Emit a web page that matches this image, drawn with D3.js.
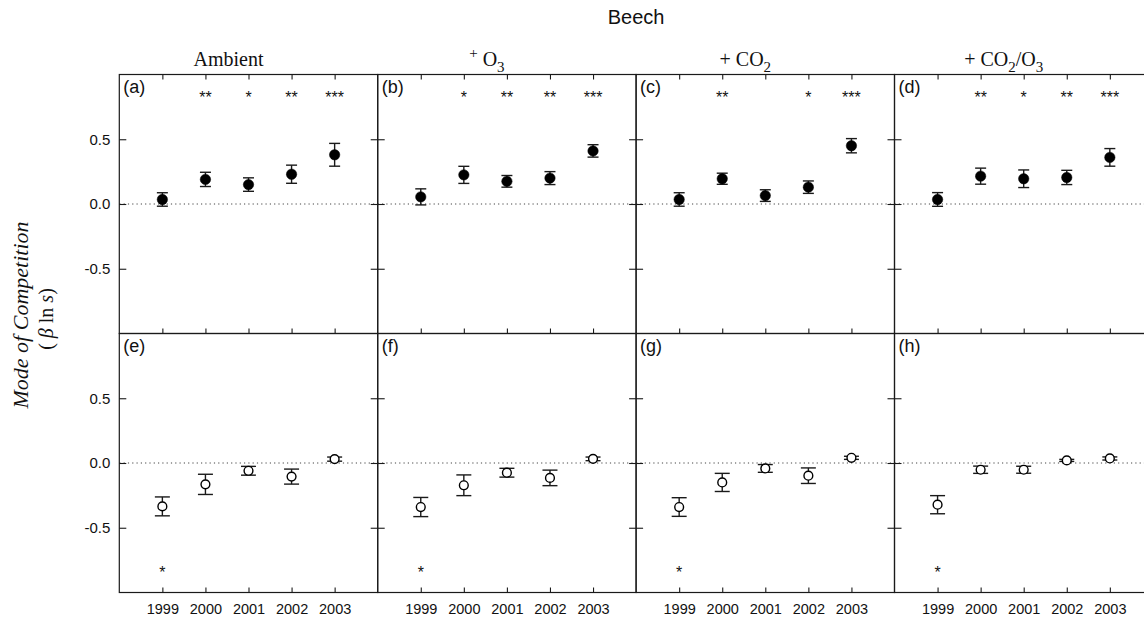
<!DOCTYPE html>
<html>
<head>
<meta charset="utf-8">
<script src="https://cdn.jsdelivr.net/npm/d3@7"></script>
<style>
  body { margin: 0; background: #fff; }
  svg { display: block; }
</style>
</head>
<body>
<svg id="chart" width="1144" height="621"></svg>
<script>
// Sampling years shown on the x axis
const years = [1999, 2000, 2001, 2002, 2003];

// Column headers (treatments); parts carry optional super/subscript roles
const treatmentHeaders = [
  [{ t: "Ambient" }],
  [{ t: "+", role: "sup" }, { t: " O" }, { t: "3", role: "sub" }],
  [{ t: "+ CO" }, { t: "2", role: "sub" }],
  [{ t: "+ CO" }, { t: "2", role: "sub" }, { t: "/O" }, { t: "3", role: "sub" }]
];

const panelLetters = [
  ["(a)", "(b)", "(c)", "(d)"],
  ["(e)", "(f)", "(g)", "(h)"]
];

// Upper row: mean mode of competition and standard error per treatment
const upperMeans = [
  [0.035, 0.19, 0.15, 0.23, 0.38],
  [0.055, 0.225, 0.175, 0.20, 0.41],
  [0.035, 0.195, 0.065, 0.13, 0.45],
  [0.035, 0.215, 0.195, 0.205, 0.36]
];
const upperErrors = [
  [0.052, 0.055, 0.052, 0.07, 0.088],
  [0.062, 0.066, 0.045, 0.05, 0.048],
  [0.052, 0.043, 0.045, 0.048, 0.055],
  [0.053, 0.062, 0.068, 0.055, 0.068]
];

// Lower row: mean mode of competition and standard error per treatment
const lowerMeans = [
  [-0.335, -0.165, -0.06, -0.105, 0.03],
  [-0.34, -0.172, -0.075, -0.115, 0.032],
  [-0.34, -0.15, -0.042, -0.098, 0.04],
  [-0.322, -0.052, -0.052, 0.02, 0.035]
];
const lowerErrors = [
  [0.073, 0.078, 0.034, 0.058, 0.016],
  [0.074, 0.08, 0.034, 0.06, 0.014],
  [0.072, 0.07, 0.03, 0.06, 0.012],
  [0.07, 0.028, 0.027, 0.008, 0.012]
];

// Significance markers above / below each year
const upperStars = [
  ["", "**", "*", "**", "***"],
  ["", "*", "**", "**", "***"],
  ["", "**", "", "*", "***"],
  ["", "**", "*", "**", "***"]
];
const lowerStars = [
  ["*", "", "", "", ""],
  ["*", "", "", "", ""],
  ["*", "", "", "", ""],
  ["*", "", "", "", ""]
];

const yTickValues = [-0.5, 0, 0.5];
const yTickLabels = ["-0.5", "0.0", "0.5"];

// ---- layout ----
const svg = d3.select("#chart");
const gridLeft = 119.3, gridTop = 74.5;
const panelW = 258.4, panelH = 259;
const sans = "'Liberation Sans', Arial, sans-serif";
const serif = "'Liberation Serif', 'Times New Roman', serif";
const ink = "#1a1a1a";

const x = d3.scaleLinear().domain([1998, 2004]).range([0, panelW]);
const y = d3.scaleLinear().domain([-1, 1]).range([panelH, 0]);

const rows = [
  { means: upperMeans, errors: upperErrors, stars: upperStars, filled: true, starAt: 0.855, cap: 5.5, topTicks: true },
  { means: lowerMeans, errors: lowerErrors, stars: lowerStars, filled: false, starAt: -0.82, cap: 7.5, topTicks: false }
];

function styleAxis(g) {
  g.select(".domain").remove();
  g.selectAll(".tick line").attr("stroke", ink).attr("stroke-width", 1.1);
  g.selectAll(".tick text").attr("fill", "#111").attr("font-family", sans);
}

rows.forEach((row, r) => {
  for (let c = 0; c < 4; c++) {
    const g = svg.append("g")
      .attr("transform", `translate(${gridLeft + c * panelW},${gridTop + r * panelH})`);

    // dotted zero reference
    g.append("line")
      .attr("x1", 0).attr("x2", panelW)
      .attr("y1", y(0)).attr("y2", y(0))
      .attr("stroke", "#444").attr("stroke-width", 1)
      .attr("stroke-dasharray", "1.2,3.1");

    // y axes (inward ticks both sides)
    const ly = g.append("g").call(
      d3.axisLeft(y).tickValues(yTickValues).tickSize(-7).tickPadding(9)
        .tickFormat((d, i) => c === 0 ? yTickLabels[i] : "")
    );
    ly.attr("font-size", 15);
    styleAxis(ly);

    const ry = g.append("g").attr("transform", `translate(${panelW},0)`)
      .call(d3.axisRight(y).tickValues(yTickValues).tickSize(-7).tickFormat(""));
    styleAxis(ry);

    // x axes
    if (row.topTicks) {
      const tx = g.append("g")
        .call(d3.axisTop(x).tickValues(years).tickSize(-5).tickFormat(""));
      styleAxis(tx);
    }

    const bx = g.append("g").attr("transform", `translate(0,${panelH})`)
      .call(d3.axisBottom(x).tickValues(years).tickSize(-5).tickPadding(11)
        .tickFormat(d => r === 1 ? String(d) : ""));
    bx.attr("font-size", 14.5);
    styleAxis(bx);

    // frame
    g.append("rect")
      .attr("x", 0).attr("y", 0).attr("width", panelW).attr("height", panelH)
      .attr("fill", "none").attr("stroke", ink).attr("stroke-width", 1.2);

    // panel letter
    g.append("text")
      .attr("x", 4).attr("y", 18.5)
      .attr("font-family", sans).attr("font-size", 18).attr("fill", "#111")
      .text(panelLetters[r][c]);

    const pts = years.map((yr, i) => ({
      yr, m: row.means[c][i], e: row.errors[c][i], s: row.stars[c][i]
    }));

    // error bars
    const eb = g.append("g").attr("stroke", ink).attr("stroke-width", 1.4).attr("fill", "none");
    eb.selectAll("line.v").data(pts).join("line").attr("class", "v")
      .attr("x1", d => x(d.yr)).attr("x2", d => x(d.yr))
      .attr("y1", d => y(d.m + d.e)).attr("y2", d => y(d.m - d.e));
    eb.selectAll("line.hi").data(pts).join("line").attr("class", "hi")
      .attr("x1", d => x(d.yr) - row.cap).attr("x2", d => x(d.yr) + row.cap)
      .attr("y1", d => y(d.m + d.e)).attr("y2", d => y(d.m + d.e));
    eb.selectAll("line.lo").data(pts).join("line").attr("class", "lo")
      .attr("x1", d => x(d.yr) - row.cap).attr("x2", d => x(d.yr) + row.cap)
      .attr("y1", d => y(d.m - d.e)).attr("y2", d => y(d.m - d.e));

    // points
    g.selectAll("circle").data(pts).join("circle")
      .attr("cx", d => x(d.yr)).attr("cy", d => y(d.m))
      .attr("r", row.filled ? 5.2 : 4.4)
      .attr("fill", row.filled ? "#000" : "#fff")
      .attr("stroke", "#000").attr("stroke-width", row.filled ? 0.5 : 1.4);

    // significance stars
    g.selectAll("text.star").data(pts.filter(d => d.s)).join("text")
      .attr("class", "star")
      .attr("x", d => x(d.yr)).attr("y", y(row.starAt) + 9.3)
      .attr("text-anchor", "middle")
      .attr("font-family", sans).attr("font-size", 16).attr("fill", "#111")
      .text(d => d.s);
  }
});

// column headers
treatmentHeaders.forEach((parts, c) => {
  const t = svg.append("text")
    .attr("x", gridLeft + c * panelW + panelW / 2 - 20).attr("y", 66)
    .attr("text-anchor", "middle")
    .attr("font-family", serif).attr("font-size", 20).attr("fill", "#111");
  let shift = 0;
  parts.forEach(p => {
    const target = p.role === "sub" ? 6 : p.role === "sup" ? -8 : 0;
    t.append("tspan")
      .attr("dy", target - shift)
      .attr("font-size", p.role ? 15 : 20)
      .text(p.t);
    shift = target;
  });
});

// figure title
svg.append("text")
  .attr("x", gridLeft + 2 * panelW).attr("y", 24)
  .attr("text-anchor", "middle")
  .attr("font-family", sans).attr("font-size", 20).attr("fill", "#111")
  .text("Beech");

// y-axis title
const yt = svg.append("g").attr("font-family", serif).attr("fill", "#111");
yt.append("text")
  .attr("transform", "translate(28,315) rotate(-90)")
  .attr("text-anchor", "middle").attr("font-size", 22).attr("font-style", "italic")
  .text("Mode of Competition");
const l2 = yt.append("text")
  .attr("transform", "translate(53,319) rotate(-90)")
  .attr("text-anchor", "middle").attr("font-size", 20);
l2.append("tspan").text("( ");
l2.append("tspan").attr("font-style", "italic").text("β");
l2.append("tspan").text(" ln ");
l2.append("tspan").attr("font-style", "italic").text("s");
l2.append("tspan").text(")");
</script>
</body>
</html>
